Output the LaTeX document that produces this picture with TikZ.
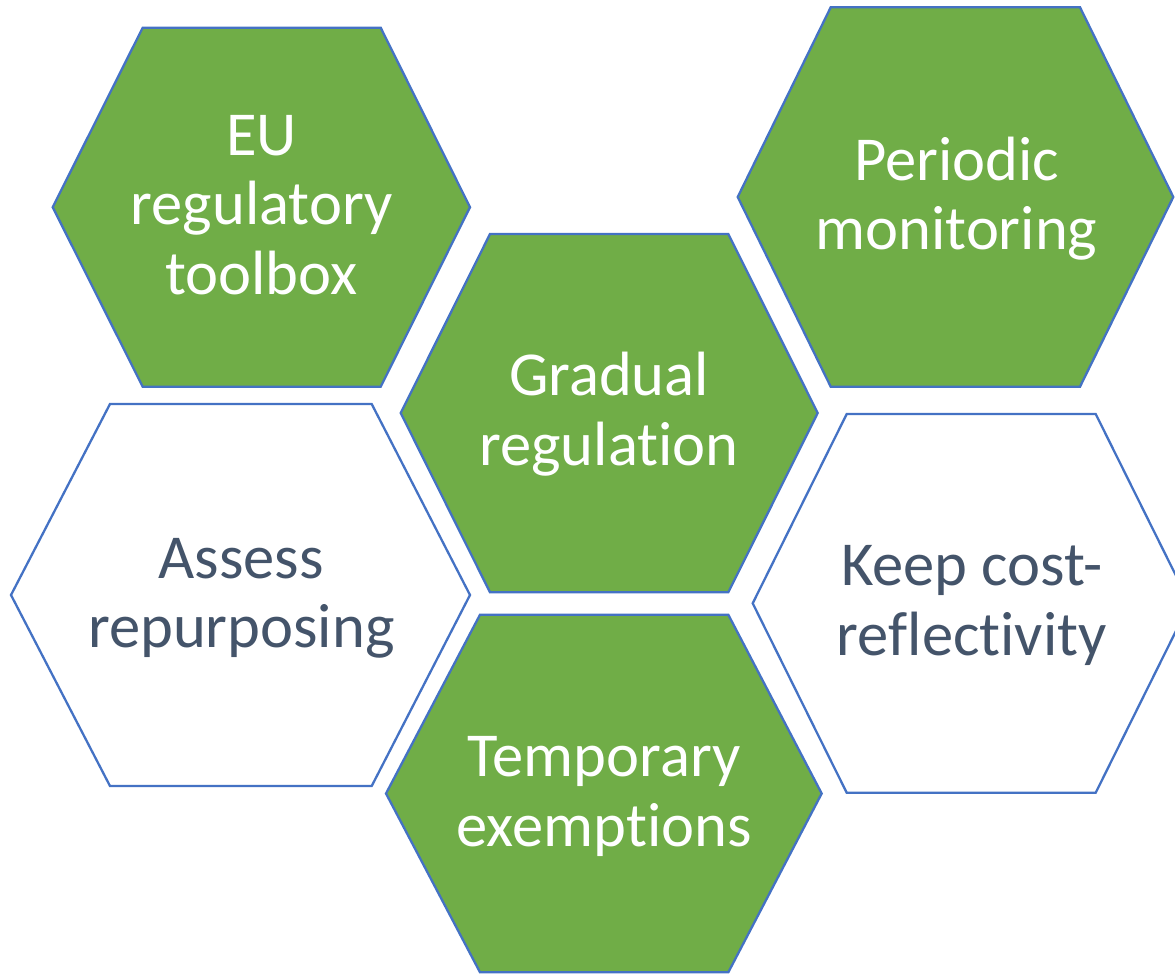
\documentclass[tikz,border=0pt]{standalone}
\usepackage{fontspec}
\setmainfont{Carlito}[RawFeature=-liga]
\definecolor{hexgreen}{HTML}{70AD47}
\definecolor{hexline}{HTML}{4472C4}
\definecolor{darktext}{HTML}{44546A}
\begin{document}
\begin{tikzpicture}[x=0.02cm,y=-0.02cm,
  hexfill/.style={fill=hexgreen,draw=hexline,line width=1.3pt,line join=miter},
  hexwhite/.style={fill=white,draw=hexline,line width=1.3pt,line join=miter},
  lbl/.style={anchor=base,align=center,inner sep=0pt,font=\fontsize{35.6}{39.3}\selectfont},
  lblw/.style={lbl,text=white},
  lbld/.style={lbl,text=darktext}]
\useasboundingbox (0,0) rectangle (1175,974);
\clip (0,0) rectangle (1175,974);
% hexagons
\path[hexfill] (52.7,207.2) -- (142.7,27.7) -- (380.7,27.7) -- (470,207.2) -- (380.7,386.7) -- (142.7,386.7) -- cycle;
\path[hexfill] (737.7,197) -- (830.7,7.3) -- (1080,7.3) -- (1173.3,197) -- (1080,386.7) -- (830.7,386.7) -- cycle;
\path[hexfill] (400.7,413) -- (490,234) -- (728.3,234) -- (817.7,413) -- (728.3,592.3) -- (490,592.3) -- cycle;
\path[hexwhite] (11,595) -- (110,404) -- (371.7,404) -- (470,595) -- (371.7,786) -- (110,786) -- cycle;
\path[hexwhite] (752.7,603.3) -- (846.7,414) -- (1095.7,414) -- (1189.7,603.3) -- (1095.7,792.7) -- (846.7,792.7) -- cycle;
\path[hexfill] (386,793.5) -- (480,614.7) -- (728.3,614.7) -- (821.7,793.5) -- (728.3,972.3) -- (480,972.3) -- cycle;
% labels (anchor = baseline of last line)
\node[lblw] (eu) at (261.5,294) {EU\\regulatory\\toolbox};
\node[lblw] (pm) at (956.5,249.3) {Periodic\\monitoring};
\node[lblw] (gr) at (609,465) {Gradual\\regulation};
\node[lbld] (ar) at (241.3,647.3) {Assess\\repurposing};
\node[lbld] (kc) at (971.8,655) {Keep cost-\\reflectivity};
\node[lblw] (te) at (604.2,846) {Temporary\\exemptions};
\end{tikzpicture}
\end{document}
